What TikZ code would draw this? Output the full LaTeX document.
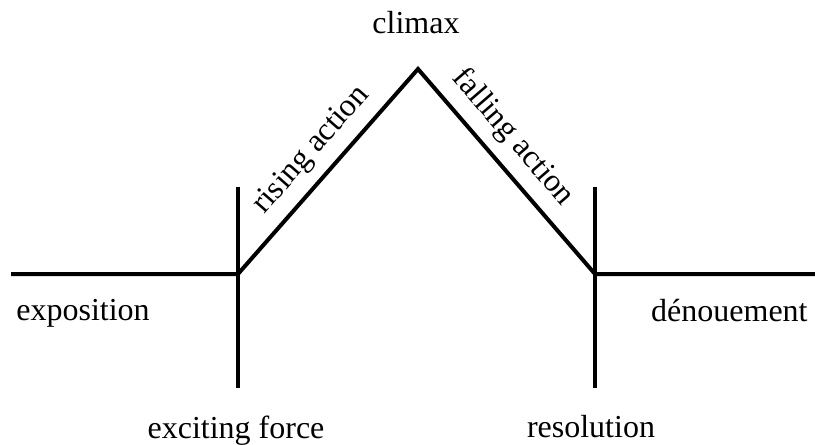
\documentclass[tikz,border=0pt]{standalone}
\usepackage{fontspec}
\setmainfont{Liberation Serif}
\usetikzlibrary{positioning}

\begin{document}
\begin{tikzpicture}[
  x=0.5pt, y=-0.5pt,
  font=\fontsize{16}{19}\selectfont,
  arc/.style={draw=black, line width=2pt},
  lbl/.style={inner sep=0pt, anchor=base},
  slab/.style={sloped, above=3pt, inner sep=2pt},
]
\useasboundingbox (0,0) rectangle (815,445);

% ── plot points ──────────────────────────────────────────────────────────────
\coordinate (start) at (11,274);
\coordinate (ef)    at (238,274);
\coordinate (top)   at (418,69);
\coordinate (res)   at (595,274);
\coordinate (end)   at (815,274);

% ── pyramid ──────────────────────────────────────────────────────────────────
\draw[arc] (start) -- (ef)
    -- node[slab, pos=0.52] (rise) {rising action} (top)
    -- node[slab, pos=0.42] (fall) {falling action} (res) -- (end);
\draw[arc] (238,187) -- (238,388);
\draw[arc] (595,187) -- (595,388);

% ── labels ───────────────────────────────────────────────────────────────────
\node[lbl] (clim) at (416,33)  {climax};
\node[lbl, anchor=base west] (expo) at (16,320) {exposition};
\node[lbl, anchor=base east] (deno) at (808,321) {dénouement};
\node[lbl] (exc)  at (236,438) {exciting force};
\node[lbl] (reso) at (591,437) {resolution};

\end{tikzpicture}
\end{document}
